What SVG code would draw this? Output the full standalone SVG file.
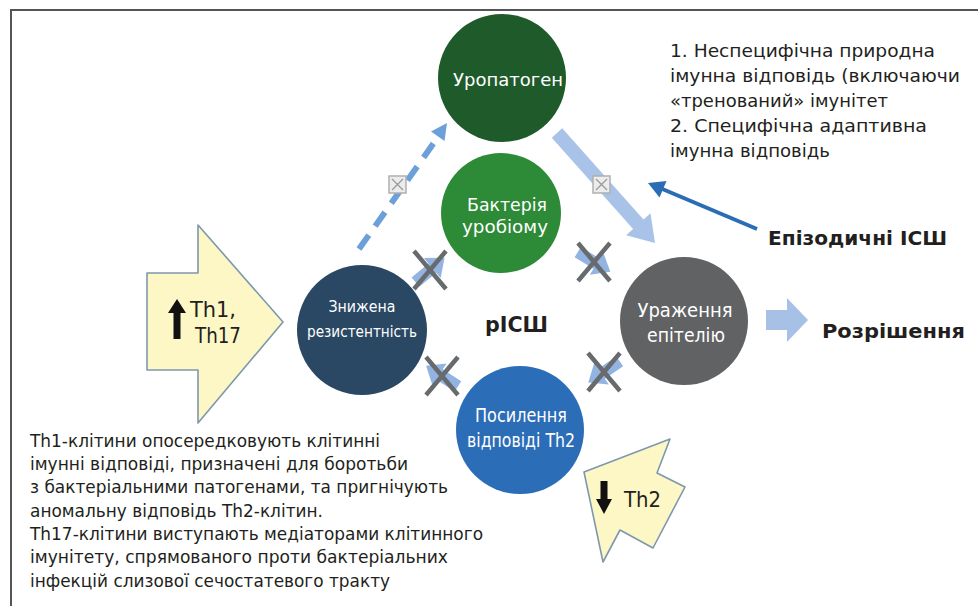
<svg xmlns="http://www.w3.org/2000/svg" xmlns:xlink="http://www.w3.org/1999/xlink" width="978" height="606" viewBox="0 0 978 606">
<style>
.t{font-family:"DejaVu Sans","Liberation Sans",sans-serif;fill:#231f20}
.w{font-family:"DejaVu Sans","Liberation Sans",sans-serif;fill:#ffffff;text-anchor:middle}
.b{font-weight:bold}
.yel{fill:#fcf7c4;stroke:#7d98ae;stroke-width:1.6;stroke-linejoin:round}
.xm{stroke:#686b6e;stroke-width:4.5;stroke-linecap:butt}
.sa{fill:#93b3e2}
.xb{fill:#ececec;stroke:#b0b0b0;stroke-width:1.5}
.xbl{stroke:#9a9a9a;stroke-width:1.3}
</style>
<defs>
<path id="small" d="M-19,-6 L3,-6 L3,-13 L19,0 L3,13 L3,6 L-19,6 Z"/>
</defs>
<rect width="978" height="606" fill="#ffffff"/>
<g id="frame" fill="none" stroke="#555" stroke-width="2">
<path d="M11,606 L11,10 L978,10"/>
</g>

<g id="connectors">
<line x1="359" y1="249" x2="438" y2="137" stroke="#6d9fd9" stroke-width="6" stroke-dasharray="17 11"/>
<polygon points="447,123 444.5,141 431,131.5" fill="#6d9fd9"/>
<g id="xbox1">
<rect class="xb" x="389" y="176" width="17" height="17"/>
<path class="xbl" d="M392,179 L403,190 M403,179 L392,190"/>
</g>
<polygon points="562.2,128.3 643.5,219.6 650.5,213.3 655,243 626.1,235.2 633.1,229 551.8,137.7" fill="#a9c3e8"/>
<g id="xbox2">
<rect class="xb" x="593" y="176" width="17" height="17"/>
<path class="xbl" d="M596,179 L607,190 M607,179 L596,190"/>
</g>
<use href="#small" class="sa" transform="translate(430,270) rotate(-40)"/>
<use href="#small" class="sa" transform="translate(594,262) rotate(31)"/>
<use href="#small" class="sa" transform="translate(604,372) rotate(146)"/>
<use href="#small" class="sa" transform="translate(442,376) rotate(-147)"/>
<path class="xm" d="M414,251 L446,289 M446,251 L414,289"/>
<path class="xm" d="M578,243 L610,281 M610,243 L578,281"/>
<path class="xm" d="M588,353 L620,391 M620,353 L588,391"/>
<path class="xm" d="M426,357 L458,395 M458,357 L426,395"/>
<line x1="757" y1="229" x2="660" y2="188" stroke="#2a6db5" stroke-width="4"/>
<polygon points="648,183 666.5,181 659.5,197.5" fill="#2a6db5"/>
<polygon points="766,310 787,310 787,298 808,320 787,342 787,330 766,330" fill="#a7c1e6"/>
</g>

<g id="n-uropathogen">
<circle cx="502" cy="78" r="64" fill="#1f5b2a"/>
<text class="w" x="508" y="86" font-size="18" textLength="110" lengthAdjust="spacingAndGlyphs">Уропатоген</text>
</g>
<g id="n-urobiome">
<circle cx="501" cy="213" r="60" fill="#2d8a37"/>
<text class="w" x="507" y="211" font-size="18" textLength="80" lengthAdjust="spacingAndGlyphs">Бактерія</text>
<text class="w" x="505" y="233" font-size="18" textLength="86" lengthAdjust="spacingAndGlyphs">уробіому</text>
</g>
<g id="n-resistance">
<circle cx="362" cy="330" r="65" fill="#2a4764"/>
<text class="w" x="362" y="312" font-size="15" textLength="67" lengthAdjust="spacingAndGlyphs">Знижена</text>
<text class="w" x="362" y="337" font-size="15" textLength="110" lengthAdjust="spacingAndGlyphs">резистентність</text>
</g>
<g id="n-epithelium">
<circle cx="684" cy="321" r="64" fill="#616264"/>
<text class="w" x="685" y="317" font-size="19" textLength="95" lengthAdjust="spacingAndGlyphs">Ураження</text>
<text class="w" x="686" y="342" font-size="19" textLength="78" lengthAdjust="spacingAndGlyphs">епітелію</text>
</g>
<g id="n-th2">
<circle cx="520" cy="430" r="64" fill="#2b6db7"/>
<text class="w" x="521" y="422" font-size="19" textLength="92" lengthAdjust="spacingAndGlyphs">Посилення</text>
<text class="w" x="521" y="447" font-size="19" textLength="108" lengthAdjust="spacingAndGlyphs">відповіді Th2</text>
</g>
<g id="n-center">
<text class="t b" x="485" y="332" font-size="21" textLength="63" lengthAdjust="spacingAndGlyphs">рІСШ</text>
</g>

<g id="n-th1">
<polygon class="yel" points="147,273 198,273 198,225 283,322 198,423 198,370 147,370"/>
<polygon points="177,299 186,313 180.5,313 180.5,339 173.5,339 173.5,313 168,313" fill="#111"/>
<text class="t" x="190" y="317" font-size="21" textLength="46" lengthAdjust="spacingAndGlyphs">Th1,</text>
<text class="t" x="195" y="343" font-size="21" textLength="46" lengthAdjust="spacingAndGlyphs">Th17</text>
</g>

<g id="n-th2down">
<polygon class="yel" points="584,472 670,439 657,473 685,487 653,548 620,530 603,562"/>
<polygon points="604,514 612,499 607.5,499 607.5,481 600.5,481 600.5,499 596,499" fill="#111"/>
<text class="t" x="624" y="507" font-size="21" textLength="37" lengthAdjust="spacingAndGlyphs">Th2</text>
</g>

<g id="n-immune" class="t" font-size="18">
<text x="670" y="57" textLength="265" lengthAdjust="spacingAndGlyphs">1. Неспецифічна природна</text>
<text x="670" y="82" textLength="290" lengthAdjust="spacingAndGlyphs">імунна відповідь (включаючи</text>
<text x="670" y="107" textLength="218" lengthAdjust="spacingAndGlyphs">«тренований» імунітет</text>
<text x="670" y="132" textLength="257" lengthAdjust="spacingAndGlyphs">2. Специфічна адаптивна</text>
<text x="670" y="157" textLength="160" lengthAdjust="spacingAndGlyphs">імунна відповідь</text>
</g>

<g id="n-episodic">
<text class="t b" x="768" y="245" font-size="20" textLength="179" lengthAdjust="spacingAndGlyphs">Епізодичні ІСШ</text>
</g>
<g id="n-resolution">
<text class="t b" x="822" y="338" font-size="20" textLength="143" lengthAdjust="spacingAndGlyphs">Розрішення</text>
</g>

<g id="n-note" class="t" font-size="17">
<text x="30" y="447" textLength="350" lengthAdjust="spacingAndGlyphs">Th1-клітини опосередковують клітинні</text>
<text x="30" y="470" textLength="378" lengthAdjust="spacingAndGlyphs">імунні відповіді, призначені для боротьби</text>
<text x="30" y="493" textLength="418" lengthAdjust="spacingAndGlyphs">з бактеріальними патогенами, та пригнічують</text>
<text x="30" y="517" textLength="293" lengthAdjust="spacingAndGlyphs">аномальну відповідь Th2-клітин.</text>
<text x="30" y="540" textLength="453" lengthAdjust="spacingAndGlyphs">Th17-клітини виступають медіаторами клітинного</text>
<text x="30" y="563" textLength="418" lengthAdjust="spacingAndGlyphs">імунітету, спрямованого проти бактеріальних</text>
<text x="30" y="587" textLength="360" lengthAdjust="spacingAndGlyphs">інфекцій слизової сечостатевого тракту</text>
</g>
</svg>
